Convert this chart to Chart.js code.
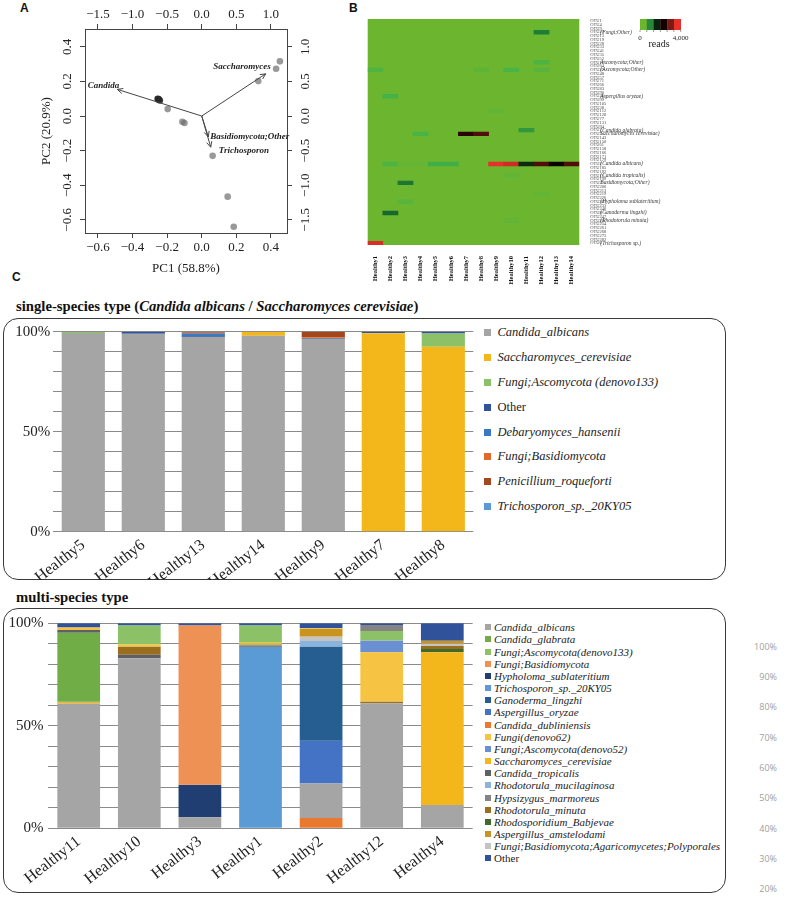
<!DOCTYPE html>
<html>
<head>
<meta charset="utf-8">
<script src="https://cdn.jsdelivr.net/npm/chart.js@4.4.0/dist/chart.umd.min.js"></script>
<style>
  body { margin: 0; background: #fff; width: 787px; height: 897px; position: relative; overflow: hidden;
         font-family: 'Liberation Serif', 'Times New Roman', serif; color: #111; }
  canvas { position: absolute; }
  .panel { position: absolute; font-family: 'Liberation Sans', Arial, sans-serif; font-weight: bold; font-size: 12px; }
  .box { position: absolute; box-sizing: border-box; border: 1.5px solid #3a3a3a; border-radius: 15px; }
  .title { position: absolute; font-weight: bold; font-size: 14.7px; white-space: nowrap; line-height: 16px; }
  .legend { position: absolute; color: #222; white-space: nowrap; }
  .legend div { position: absolute; left: 0; display: flex; align-items: center; }
  .ghost { position: absolute; font-family: 'Open Sans', sans-serif; font-size: 9px; color: #a0a0a0; text-align: right; width: 40px; line-height: 12px; }
</style>
</head>
<body>
<div class="panel" style="left:20px;top:1px">A</div>
<div class="panel" style="left:349px;top:1px">B</div>
<div class="panel" style="left:12px;top:270px">C</div>

<div class="title" style="left:16px;top:298px">single-species type (<i>Candida albicans</i> / <i>Saccharomyces cerevisiae</i>)</div>
<div class="title" style="left:16px;top:589px">multi-species type</div>
<div class="box" style="left:3px;top:318px;width:723px;height:262px"></div>
<div class="box" style="left:3px;top:608px;width:723px;height:285px"></div>

<canvas id="pca" width="320" height="290" style="left:0;top:0"></canvas>
<canvas id="heat" width="447" height="285" style="left:340px;top:0"></canvas>
<canvas id="single" width="480" height="262" style="left:0;top:318px"></canvas>
<canvas id="multi" width="480" height="285" style="left:0;top:608px"></canvas>
<div id="legendSingle" class="legend" style="left:484px;top:0"></div>
<div id="legendMulti" class="legend" style="left:485px;top:0"></div>
<div id="ghost"></div>

<script>
// ---------- A: PCA biplot ----------
const pc1Ticks = [-0.6, -0.4, -0.2, 0.0, 0.2, 0.4];
const pc2Ticks = [-0.6, -0.4, -0.2, 0.0, 0.2, 0.4];
const loadXTicks = [-1.5, -1.0, -0.5, 0.0, 0.5, 1.0];
const loadYTicks = [-1.5, -1.0, -0.5, 0.0, 0.5, 1.0];
const samplePC1 = [-0.255, -0.250, -0.247, -0.252, -0.242, -0.197, -0.112, -0.100, 0.063, 0.150, 0.185, 0.327, 0.430, 0.452];
const samplePC2 = [0.100, 0.098, 0.094, 0.096, 0.090, 0.040, -0.033, -0.040, -0.230, -0.466, -0.640, 0.202, 0.273, 0.316];
const arrowNames = ['Candida', 'Saccharomyces', 'Basidiomycota;Other', 'Trichosporon'];
const arrowLoadX = [-1.22, 0.925, 0.095, 0.13];
const arrowLoadY = [0.385, 0.61, -0.30, -0.45];

// ---------- B: heatmap ----------
const heatSamples = ['Healthy1', 'Healthy2', 'Healthy3', 'Healthy4', 'Healthy5', 'Healthy6', 'Healthy7',
  'Healthy8', 'Healthy9', 'Healthy10', 'Healthy11', 'Healthy12', 'Healthy13', 'Healthy14'];
const otuIds = ['OTU1', 'OTU4', 'OTU9', 'OTU21', 'OTU13', 'OTU19', 'OTU28', 'OTU33', 'OTU41', 'OTU35',
  'OTU52', 'OTU17', 'OTU64', 'OTU22', 'OTU48', 'OTU57', 'OTU71', 'OTU66', 'OTU83', 'OTU90',
  'OTU26', 'OTU99', 'OTU105', 'OTU38', 'OTU112', 'OTU120', 'OTU77', 'OTU131', 'OTU94', 'OTU7',
  'OTU3', 'OTU143', 'OTU150', 'OTU61', 'OTU158', 'OTU166', 'OTU171', 'OTU179', 'OTU2', 'OTU185',
  'OTU192', 'OTU11', 'OTU199', 'OTU5', 'OTU206', 'OTU213', 'OTU219', 'OTU226', 'OTU30', 'OTU233',
  'OTU240', 'OTU8', 'OTU247', 'OTU25', 'OTU254', 'OTU261', 'OTU268', 'OTU275', 'OTU282', 'OTU6'];
const heatRows = [3, 11, 13, 20, 24, 29, 30, 38, 41, 43, 46, 48, 51, 53, 59];
const heatReads = [
  [0, 0, 0, 0, 0, 0, 0, 0, 0, 0, 0, 900, 0, 0],
  [0, 0, 0, 0, 0, 0, 0, 0, 0, 0, 0, 300, 0, 0],
  [300, 0, 0, 0, 0, 0, 0, 150, 0, 350, 0, 200, 0, 0],
  [0, 400, 0, 0, 0, 0, 0, 0, 0, 0, 0, 0, 0, 0],
  [0, 0, 0, 0, 0, 0, 0, 0, 80, 0, 0, 0, 0, 0],
  [0, 0, 0, 0, 0, 0, 0, 0, 0, 0, 650, 0, 0, 0],
  [0, 0, 0, 350, 0, 0, 2600, 2900, 0, 0, 0, 0, 0, 0],
  [0, 300, 80, 80, 450, 450, 0, 0, 4000, 3800, 1500, 2900, 2200, 2900],
  [0, 0, 0, 0, 0, 0, 0, 0, 0, 100, 0, 0, 0, 0],
  [0, 0, 950, 0, 0, 0, 0, 0, 0, 0, 0, 0, 0, 0],
  [0, 0, 0, 0, 0, 0, 0, 0, 0, 0, 0, 80, 0, 0],
  [0, 0, 200, 0, 0, 0, 0, 0, 0, 0, 0, 0, 0, 0],
  [0, 1050, 0, 0, 0, 0, 0, 0, 0, 0, 0, 0, 0, 0],
  [0, 0, 0, 0, 0, 0, 0, 0, 0, 100, 0, 0, 0, 0],
  [3900, 0, 0, 0, 0, 0, 0, 0, 0, 0, 0, 0, 0, 0]
];
const taxonRows = [3, 11, 13, 20, 29, 30, 38, 41, 43, 48, 51, 53, 59];
const taxonNames = ['(Fungi;Other)', 'Ascomycota;Other)', '(Ascomycota;Other)', 'Aspergillus oryzae)',
  '(Candida glabrata)', 'Saccharomyces cerevisiae)', '(Candida albicans)', '(Candida tropicalis)',
  'Basidiomycota;Other)', '(Hypholoma sublateritium)', '(Ganoderma lingzhi)', '(Rhodotorula minuta)',
  '(Trichosporon sp.)'];
const keyLabels = ['0', '4,000'];

// ---------- C: stacked bars ----------
const pctTicks = [0, 10, 20, 30, 40, 50, 60, 70, 80, 90, 100];
const singleSamples = ['Healthy5', 'Healthy6', 'Healthy13', 'Healthy14', 'Healthy9', 'Healthy7', 'Healthy8'];
const singleTaxa = ['Candida_albicans', 'Saccharomyces_cerevisiae', 'Fungi;Ascomycota (denovo133)', 'Other',
  'Debaryomyces_hansenii', 'Fungi;Basidiomycota', 'Penicillium_roqueforti', 'Trichosporon_sp._20KY05'];
const sCandidaAlbicans = [99.4, 99.0, 97.4, 98.0, 96.5, 0, 0];
const sSaccharomyces = [0, 0, 0, 2.0, 0, 99.2, 92.5];
const sAscomycota133 = [0.6, 0, 0, 0, 0, 0.2, 6.6];
const sOther = [0, 1.0, 0.3, 0, 0.4, 0.6, 0.9];
const sDebaryomyces = [0, 0, 1.5, 0, 0, 0, 0];
const sBasidiomycota = [0, 0, 0.8, 0, 0.3, 0, 0];
const sPenicillium = [0, 0, 0, 0, 2.8, 0, 0];
const sTrichosporon = [0, 0, 0, 0, 0, 0, 0];

const multiSamples = ['Healthy11', 'Healthy10', 'Healthy3', 'Healthy1', 'Healthy2', 'Healthy12', 'Healthy4'];
const multiTaxa = ['Candida_albicans', 'Candida_glabrata', 'Fungi;Ascomycota(denovo133)', 'Fungi;Basidiomycota',
  'Hypholoma_sublateritium', 'Trichosporon_sp._20KY05', 'Ganoderma_lingzhi', 'Aspergillus_oryzae',
  'Candida_dubliniensis', 'Fungi(denovo62)', 'Fungi;Ascomycota(denovo52)', 'Saccharomyces_cerevisiae',
  'Candida_tropicalis', 'Rhodotorula_mucilaginosa', 'Hypsizygus_marmoreus', 'Rhodotorula_minuta',
  'Rhodosporidium_Babjevae', 'Aspergillus_amstelodami', 'Fungi;Basidiomycota;Agaricomycetes;Polyporales', 'Other'];
const mCandidaAlbicans = [60.9, 83.0, 5.4, 0, 16.9, 61.0, 11.4];
const mCandidaGlabrata = [33.7, 0, 0, 0, 0, 0, 0];
const mAscomycota133 = [0, 9.1, 0, 8.3, 0, 4.7, 0];
const mBasidiomycota = [0, 0, 77.7, 0, 0, 0, 0];
const mHypholoma = [0, 0, 15.8, 0, 0, 0, 0];
const mTrichosporon = [0, 0, 0, 88.4, 0, 0, 0];
const mGanoderma = [0, 0, 0, 0, 45.9, 0, 0];
const mAspergillusOryzae = [0, 0, 0, 0, 20.8, 0, 0];
const mCandidaDubliniensis = [0, 0, 0, 0, 5.0, 0, 0];
const mDenovo62 = [1.3, 1.1, 0, 0, 0.4, 24.1, 0];
const mAscomycota52 = [0, 0, 0, 0, 0, 5.7, 0];
const mSaccharomyces = [0.8, 0, 0, 0.9, 0, 0, 74.5];
const mCandidaTropicalis = [1.3, 1.6, 0, 0, 0, 0, 0];
const mRhodotorulaMucilaginosa = [0, 0, 0, 0, 2.8, 0, 0];
const mHypsizygus = [0, 0, 0, 0.9, 0, 2.9, 0];
const mRhodotorulaMinuta = [0, 4.1, 0, 0, 0, 0.8, 1.4];
const mRhodosporidium = [0, 0, 0, 0.4, 0, 0, 1.6];
const mAspergillusAmstelodami = [0, 0, 0, 0, 3.6, 0, 1.3];
const mPolyporales = [0, 0, 0, 0, 2.2, 0, 1.3];
const mOther = [2.0, 1.1, 1.1, 1.1, 2.4, 0.8, 8.5];
// stacking order of each bar, bottom to top (indices into multiTaxa)
const stackH11 = [0, 11, 1, 12, 9, 19];
const stackH10 = [0, 12, 15, 9, 2, 19];
const stackH3 = [0, 4, 3, 19];
const stackH1 = [5, 14, 16, 11, 2, 19];
const stackH2 = [8, 0, 7, 6, 13, 18, 17, 9, 19];
const stackH12 = [0, 15, 9, 10, 2, 14, 19];
const stackH4 = [0, 11, 16, 15, 18, 17, 19];
const ghostTicks = ['100%', '90%', '80%', '70%', '60%', '50%', '40%', '30%', '20%'];

const serif = "'Liberation Serif', 'Times New Roman', serif";
const fmt = v => (v < 0 ? '\u2212' : '') + Math.abs(v).toFixed(1);

// ---------------- panel A ----------------
const pointColors = samplePC1.map((v, i) => i < 5 ? 'rgba(40,40,40,0.85)' : 'rgba(110,110,110,0.7)');
const arrowLabelStyle = [
  { dx: 2, dy: -4, align: 'right' },
  { dx: 5, dy: -7, align: 'right' },
  { dx: 2, dy: 0, align: 'left' },
  { dx: 8, dy: 3, align: 'left' }
];

function drawArrow(ctx, x0, y0, x1, y1) {
  ctx.beginPath();
  ctx.moveTo(x0, y0);
  ctx.lineTo(x1, y1);
  ctx.stroke();
  const ang = Math.atan2(y1 - y0, x1 - x0);
  const h = 6;
  ctx.beginPath();
  ctx.moveTo(x1 - h * Math.cos(ang - 0.45), y1 - h * Math.sin(ang - 0.45));
  ctx.lineTo(x1, y1);
  ctx.lineTo(x1 - h * Math.cos(ang + 0.45), y1 - h * Math.sin(ang + 0.45));
  ctx.stroke();
}

const pcaExtras = {
  id: 'pcaExtras',
  afterDraw(chart) {
    const { ctx, chartArea: a, scales } = chart;
    ctx.save();
    ctx.fillStyle = '#222';
    ctx.font = '13px ' + serif;
    ctx.textAlign = 'center';
    ctx.textBaseline = 'middle';
    [['y', a.left - 17], ['y2', a.right + 19]].forEach(([id, x]) => {
      const s = scales[id];
      s.ticks.forEach(t => {
        ctx.save();
        ctx.translate(x, s.getPixelForValue(t.value));
        ctx.rotate(-Math.PI / 2);
        ctx.fillText(fmt(t.value), 0, 0);
        ctx.restore();
      });
    });
    ctx.fillText('PC1 (58.8%)', (a.left + a.right) / 2, a.bottom + 36);
    ctx.save();
    ctx.translate(a.left - 38, (a.top + a.bottom) / 2);
    ctx.rotate(-Math.PI / 2);
    ctx.fillText('PC2 (20.9%)', 0, 0);
    ctx.restore();

    const x2 = scales.x2, y2 = scales.y2;
    const ox = x2.getPixelForValue(0), oy = y2.getPixelForValue(0);
    ctx.strokeStyle = '#444';
    ctx.lineWidth = 1;
    ctx.font = 'italic bold 9px ' + serif;
    arrowNames.forEach((name, i) => {
      const tx = x2.getPixelForValue(arrowLoadX[i]);
      const ty = y2.getPixelForValue(arrowLoadY[i]);
      drawArrow(ctx, ox, oy, tx, ty);
      const st = arrowLabelStyle[i];
      ctx.textAlign = st.align;
      ctx.fillText(name, tx + st.dx, ty + st.dy);
    });
    ctx.restore();
  }
};

const axisLine = { display: true, color: '#444', width: 1 };
const tickMarks = { display: true, drawOnChartArea: false, drawTicks: true, tickLength: 5, color: '#444' };

new Chart(document.getElementById('pca'), {
  type: 'scatter',
  data: {
    datasets: [{
      data: samplePC1.map((x, i) => ({ x: x, y: samplePC2[i] })),
      pointRadius: 3.3,
      pointBorderWidth: 0,
      pointBackgroundColor: pointColors
    }]
  },
  options: {
    responsive: false,
    animation: false,
    events: [],
    layout: { padding: { left: 45, right: 13, top: 9, bottom: 29 } },
    plugins: { legend: { display: false }, tooltip: { enabled: false } },
    scales: {
      x: {
        type: 'linear', position: 'bottom', min: -0.675, max: 0.493,
        afterBuildTicks: s => { s.ticks = pc1Ticks.map(v => ({ value: v })); },
        afterFit: s => { s.height = 28; },
        grid: tickMarks, border: axisLine,
        ticks: { font: { family: serif, size: 13 }, color: '#222', padding: 2, maxRotation: 0, autoSkip: false, callback: v => fmt(v) }
      },
      x2: {
        type: 'linear', position: 'top', min: -1.6875, max: 1.2325,
        afterBuildTicks: s => { s.ticks = loadXTicks.map(v => ({ value: v })); },
        afterFit: s => { s.height = 20; },
        grid: tickMarks, border: axisLine,
        ticks: { font: { family: serif, size: 13 }, color: '#222', padding: 2, maxRotation: 0, autoSkip: false, callback: v => fmt(v) }
      },
      y: {
        type: 'linear', position: 'left', min: -0.676, max: 0.503,
        afterBuildTicks: s => { s.ticks = pc2Ticks.map(v => ({ value: v })); },
        afterFit: s => { s.width = 40; },
        grid: tickMarks, border: axisLine,
        ticks: { display: false }
      },
      y2: {
        type: 'linear', position: 'right', min: -1.69, max: 1.2575,
        afterBuildTicks: s => { s.ticks = loadYTicks.map(v => ({ value: v })); },
        afterFit: s => { s.width = 20; },
        grid: tickMarks, border: axisLine,
        ticks: { display: false }
      }
    }
  },
  plugins: [pcaExtras]
});

// ---------------- panel B ----------------
const colorStops = [
  [0, [108, 181, 47]], [400, [67, 179, 73]], [900, [30, 125, 54]], [1500, [12, 42, 16]],
  [2000, [0, 0, 0]], [2500, [26, 0, 0]], [3200, [122, 26, 18]], [4000, [232, 48, 42]]
];
function readColor(v) {
  for (let i = 1; i < colorStops.length; i++) {
    const [v1, c1] = colorStops[i];
    const [v0, c0] = colorStops[i - 1];
    if (v <= v1) {
      const t = (v - v0) / (v1 - v0);
      const c = c0.map((x, k) => Math.round(x + (c1[k] - x) * t));
      return `rgb(${c[0]},${c[1]},${c[2]})`;
    }
  }
  return 'rgb(232,48,42)';
}

const heatExtras = {
  id: 'heatExtras',
  beforeDatasetsDraw(chart) {
    const { ctx, chartArea: a } = chart;
    ctx.save();
    ctx.fillStyle = readColor(0);
    ctx.fillRect(a.left, a.top, a.right - a.left, a.bottom - a.top);
    ctx.restore();
  },
  afterDraw(chart) {
    const { ctx, chartArea: a, scales } = chart;
    ctx.save();
    // taxon names beside the OTU ids
    ctx.fillStyle = '#333';
    ctx.font = 'italic 5.5px ' + serif;
    ctx.textAlign = 'left';
    ctx.textBaseline = 'middle';
    taxonRows.forEach((r, i) => {
      ctx.fillText(taxonNames[i], a.right + 21, scales.y.getPixelForValue(r + 0.5));
    });
    // colour key
    const kx = 300, ky = 19, kw = 40.7, kh = 11, n = 6;
    for (let i = 0; i < n; i++) {
      ctx.fillStyle = readColor(4000 * i / (n - 1));
      ctx.fillRect(kx + i * kw / n, ky, kw / n + 0.3, kh);
    }
    ctx.strokeStyle = '#555';
    ctx.lineWidth = 0.6;
    for (let i = 0; i <= n; i++) {
      ctx.beginPath();
      ctx.moveTo(kx + i * kw / n, ky + kh);
      ctx.lineTo(kx + i * kw / n, ky + kh + 2);
      ctx.stroke();
    }
    ctx.fillStyle = '#222';
    ctx.font = '7px ' + serif;
    ctx.textAlign = 'center';
    ctx.fillText(keyLabels[0], kx, ky + 19);
    ctx.fillText(keyLabels[1], kx + kw, ky + 19);
    ctx.font = '10px ' + serif;
    ctx.fillText('reads', kx + 19, ky + 25);
    ctx.restore();
  }
};

new Chart(document.getElementById('heat'), {
  type: 'bar',
  data: {
    labels: heatSamples,
    datasets: heatRows.map((r, k) => ({
      data: heatReads[k].map(v => v > 0 ? [r, r + 1] : null),
      backgroundColor: heatReads[k].map(v => readColor(v)),
      borderWidth: 0,
      grouped: false,
      barPercentage: 1,
      categoryPercentage: 1
    }))
  },
  options: {
    responsive: false,
    animation: false,
    events: [],
    layout: { padding: { left: 27.7, right: 117.7, top: 19, bottom: 0 } },
    plugins: { legend: { display: false }, tooltip: { enabled: false } },
    scales: {
      x: {
        grid: { display: false }, border: { display: false },
        afterFit: s => { s.height = 40; },
        ticks: { font: { family: serif, size: 6.5, weight: 'bold' }, color: '#111', minRotation: 90, maxRotation: 90, padding: 3, autoSkip: false }
      },
      y: {
        position: 'right', min: 0, max: otuIds.length, reverse: true,
        grid: { display: false }, border: { display: false },
        afterBuildTicks: s => { s.ticks = otuIds.map((id, i) => ({ value: i + 0.5 })); },
        afterFit: s => { s.width = 90; },
        ticks: { autoSkip: false, font: { family: serif, size: 4.5 }, color: '#444', padding: 3, callback: (v, i) => otuIds[i] }
      }
    }
  },
  plugins: [heatExtras]
});

// ---------------- panel C ----------------
const singleColors = ['#a5a5a5', '#f3b71b', '#8cc168', '#2f529a', '#3a78c0', '#e0682a', '#a3481e', '#5b9bd5'];
const singleSeries = [sCandidaAlbicans, sSaccharomyces, sAscomycota133, sOther, sDebaryomyces,
  sBasidiomycota, sPenicillium, sTrichosporon];

const multiColors = ['#a5a5a5', '#70ad47', '#8cc168', '#ee9155', '#213e72', '#5b9bd5', '#265e91', '#4472c4',
  '#e9792e', '#f6c442', '#6a8fd3', '#f3b71b', '#5f6064', '#8ab4de', '#848484', '#9b6e1e',
  '#3f6a2b', '#c9931f', '#c4c4c4', '#2f529a'];
const multiSeries = [mCandidaAlbicans, mCandidaGlabrata, mAscomycota133, mBasidiomycota, mHypholoma,
  mTrichosporon, mGanoderma, mAspergillusOryzae, mCandidaDubliniensis, mDenovo62, mAscomycota52,
  mSaccharomyces, mCandidaTropicalis, mRhodotorulaMucilaginosa, mHypsizygus, mRhodotorulaMinuta,
  mRhodosporidium, mAspergillusAmstelodami, mPolyporales, mOther];
const multiStacks = [stackH11, stackH10, stackH3, stackH1, stackH2, stackH12, stackH4];

// floating [from, to] for every series in every bar, following each bar's own order
const multiRanges = multiSeries.map(() => multiSamples.map(() => null));
multiStacks.forEach((order, j) => {
  let base = 0;
  order.forEach(si => {
    const v = multiSeries[si][j];
    multiRanges[si][j] = [base, base + v];
    base += v;
  });
});

function pctAxis(width, pad) {
  return {
    min: 0, max: 100,
    afterBuildTicks: s => { s.ticks = pctTicks.map(v => ({ value: v })); },
    afterFit: s => { s.width = width; },
    grid: { color: '#8a8a8a', lineWidth: 1, drawTicks: false },
    border: { display: false },
    ticks: { font: { family: serif, size: 15 }, color: '#222', padding: pad, autoSkip: false,
      callback: v => v % 50 === 0 ? v + '%' : '' }
  };
}
function sampleAxis(height) {
  return {
    grid: { display: false }, border: { display: false },
    afterFit: s => { s.height = height; },
    ticks: { font: { family: serif, size: 16 }, color: '#222', minRotation: 38, maxRotation: 38, padding: -4, autoSkip: false }
  };
}

new Chart(document.getElementById('single'), {
  type: 'bar',
  data: {
    labels: singleSamples,
    datasets: singleSeries.map((vals, i) => ({
      label: singleTaxa[i],
      data: vals,
      backgroundColor: singleColors[i],
      borderWidth: 0,
      barPercentage: 0.72,
      categoryPercentage: 1
    }))
  },
  options: {
    responsive: false,
    animation: false,
    events: [],
    layout: { padding: { left: 3.3, right: 6.7, top: 13.7, bottom: 0 } },
    plugins: { legend: { display: false }, tooltip: { enabled: false } },
    scales: {
      x: Object.assign(sampleAxis(48.3), { stacked: true }),
      y: Object.assign(pctAxis(50, 3), { stacked: true })
    }
  }
});

new Chart(document.getElementById('multi'), {
  type: 'bar',
  data: {
    labels: multiSamples,
    datasets: multiRanges.map((ranges, i) => ({
      label: multiTaxa[i],
      data: ranges.map(r => r && r[1] > r[0] ? r : null),
      backgroundColor: multiColors[i],
      borderWidth: 0,
      grouped: false,
      barPercentage: 0.705,
      categoryPercentage: 1
    }))
  },
  options: {
    responsive: false,
    animation: false,
    events: [],
    layout: { padding: { left: 3.4, right: 7.4, top: 15.3, bottom: 4.7 } },
    plugins: { legend: { display: false }, tooltip: { enabled: false } },
    scales: {
      x: sampleAxis(60),
      y: pctAxis(45, 5)
    }
  }
});

// legends (html, built from the same series lists)
function buildLegend(id, names, colors, y0, step, sq, gap, size) {
  const box = document.getElementById(id);
  names.forEach((name, i) => {
    const row = document.createElement('div');
    row.style.top = (y0 + i * step - step / 2) + 'px';
    row.style.height = step + 'px';
    row.style.fontSize = size + 'px';
    row.style.fontStyle = name === 'Other' ? 'normal' : 'italic';
    const sw = document.createElement('span');
    sw.style.cssText = `display:inline-block;width:${sq}px;height:${sq}px;background:${colors[i]};margin-right:${gap}px;`;
    row.appendChild(sw);
    row.appendChild(document.createTextNode(name));
    box.appendChild(row);
  });
}
buildLegend('legendSingle', singleTaxa, singleColors, 332.7, 24.85, 7, 6.5, 12.5);
buildLegend('legendMulti', multiTaxa, multiColors, 627.3, 12.16, 6, 3, 11);

const ghost = document.getElementById('ghost');
ghostTicks.forEach((t, i) => {
  const d = document.createElement('div');
  d.className = 'ghost';
  d.style.left = '737px';
  d.style.top = (646.7 + i * 30.3 - 6) + 'px';
  d.textContent = t;
  ghost.appendChild(d);
});
</script>
</body>
</html>
